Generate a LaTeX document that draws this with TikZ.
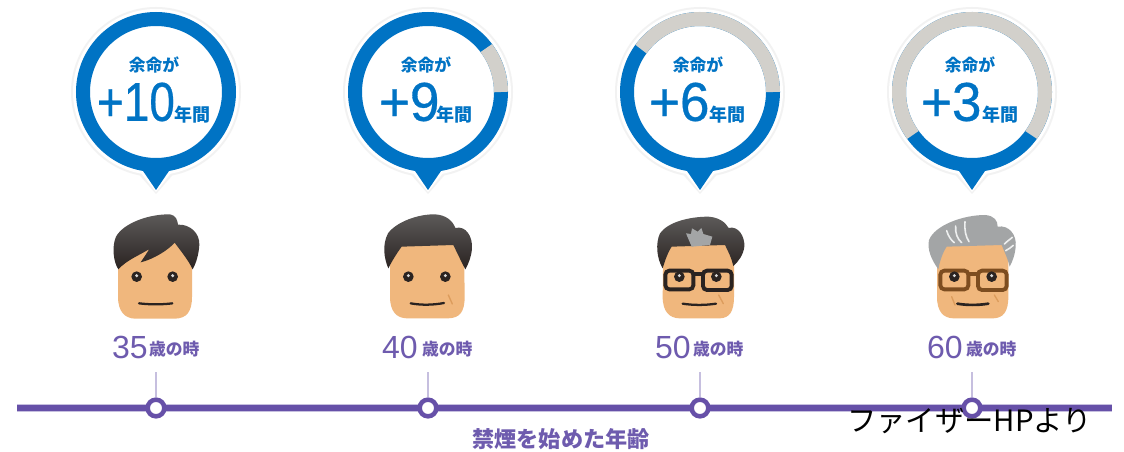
\documentclass[tikz,border=0pt]{standalone}
\usepackage{fontspec}
\setmainfont{Noto Sans CJK JP}
\newfontfamily\digitfont[FakeBold=0.6]{Liberation Sans}
\newfontfamily\agefont{Liberation Sans}
\definecolor{ringblue}{HTML}{0073C4}
\definecolor{ringgrey}{HTML}{D2D0CB}
\definecolor{purp}{HTML}{6650A8}
\definecolor{purptext}{HTML}{6E5BAE}
\definecolor{purplight}{HTML}{C6BFDF}
\definecolor{skin}{HTML}{F0B77D}
\definecolor{hairtop}{HTML}{5C5A59}
\definecolor{hairbot}{HTML}{2A2321}
\definecolor{greyhair}{HTML}{A3A5A6}
\definecolor{brownglass}{HTML}{7D4D20}
\definecolor{wrinkle}{HTML}{DC9C5C}
\tikzset{
  txt/.style={inner sep=0pt,outer sep=0pt,font=\bfseries},
  lifetxt/.style={txt,text=ringblue,font=\bfseries\fontsize{12.6}{14}\selectfont},
  yeartxt/.style={txt,text=ringblue,font=\bfseries\fontsize{13.5}{15}\selectfont},
  bignum/.style={inner sep=0pt,outer sep=0pt,text=ringblue,font=\digitfont\fontsize{41}{42}\selectfont},
  agenum/.style={inner sep=0pt,outer sep=0pt,text=purptext,font=\agefont\fontsize{24}{25}\selectfont},
  agetxt/.style={txt,text=purptext,font=\bfseries\fontsize{12.6}{14}\selectfont},
  dot/.style={circle,draw=purp,fill=white,line width=3.4pt,minimum size=12.5pt,inner sep=0pt},
  tick/.style={draw=purplight,line width=2.2pt},
  ringline/.style={line width=10.5pt,line cap=butt},
  facex/.style={x=.25pt,y=-.25pt},
  mouth/.style={draw=#1,line width=1.7pt,line cap=round},
  brow/.style={draw=wrinkle,line width=1pt,line cap=round},
  hairshade/.style={top color=hairtop,bottom color=hairbot},
}
\newcommand{\bubble}[1]{%
  \fill[black!5] (#1,92) circle[radius=85];
  \fill[black!5] (#1-21,170) -- (#1,194) -- (#1+21,170) -- cycle;
  \fill[white] (#1,92) circle[radius=83];
  \fill[white] (#1-19,168) -- (#1,192) -- (#1+19,168) -- cycle;
  \fill[ringblue] (#1-15,168) -- (#1,190) -- (#1+15,168) -- cycle;
  \draw[ringblue,ringline] (#1,92) circle[radius=73];
}
\newcommand{\eye}[1]{%
  \fill[hairbot] (#1) circle[radius=16];
  \fill[white!85!black] ($(#1)+(0,-3)$) circle[radius=5];
}
\usetikzlibrary{calc}
\begin{document}
\begin{tikzpicture}[x=.75pt,y=-.75pt]
\useasboundingbox (0,0) rectangle (1124,452);
\fill[white] (0,0) rectangle (1124,452);
% bubbles
\bubble{156}
\bubble{428}
\draw[ringgrey,ringline] (428,92)+(-37:73) arc[start angle=-37,end angle=0,radius=73];
\bubble{700}
\draw[ringgrey,ringline] (700,92)+(-144:73) arc[start angle=-144,end angle=0,radius=73];
\bubble{972}
\draw[ringgrey,ringline] (972,92)+(-216:73) arc[start angle=-216,end angle=36,radius=73];
% bubble text
\node[lifetxt] (a1) at (154,65) {余命が};
\node[lifetxt] (a2) at (426,65) {余命が};
\node[lifetxt] (a3) at (698,65) {余命が};
\node[lifetxt] (a4) at (970,65) {余命が};
\node[bignum,anchor=west] (n1) at (97,102) {\scalebox{.84}[1]{+10}};
\node[bignum,anchor=west] (n2) at (379,102) {\scalebox{.97}[1]{+9}};
\node[bignum,anchor=west] (n3) at (649,102) {\scalebox{.97}[1]{+6}};
\node[bignum,anchor=west] (n4) at (921,102) {\scalebox{.97}[1]{+3}};
\node[yeartxt] (y1) at (192,115) {年間};
\node[yeartxt] (y2) at (454.5,115) {年間};
\node[yeartxt] (y3) at (727,115) {年間};
\node[yeartxt] (y4) at (1000,115) {年間};
% face 1
\begin{scope}[shift={(90,200)},facex]
\fill[skin] (85,150) -- (84,290) .. controls (84,335) and (105,355) .. (135,356) -- (255,356) .. controls (290,355) and (306,335) .. (306,290) -- (306,150) -- (254,110) -- cycle;
\shade[hairshade] (85,208) .. controls (70,185) and (65,140) .. (78,110) .. controls (100,70) and (175,42) .. (240,43) .. controls (258,46) and (262,60) .. (264,74) .. controls (300,72) and (330,100) .. (328,135) .. controls (326,165) and (318,190) .. (308,208) .. controls (295,180) and (270,150) .. (254,128) .. controls (235,150) and (190,178) .. (152,187) .. controls (162,172) and (170,160) .. (178,147) .. controls (150,165) and (110,180) .. (85,208) -- cycle;
\eye{140,230}
\eye{248,230}
\draw[mouth=hairbot] (147,310) .. controls (180,314) and (215,314) .. (247,310);
\end{scope}
% face 2
\begin{scope}[shift={(360,200)},facex]
\fill[skin] (90,130) -- (90,290) .. controls (90,335) and (110,354) .. (140,355) -- (265,355) .. controls (300,354) and (314,335) .. (314,290) -- (312,130) -- cycle;
\shade[hairshade] (85,205) .. controls (72,175) and (66,135) .. (84,100) .. controls (110,65) and (175,42) .. (225,43) .. controls (258,45) and (278,62) .. (286,84) .. controls (318,76) and (338,110) .. (336,145) .. controls (334,170) and (326,190) .. (316,208) .. controls (304,185) and (292,160) .. (280,135) -- (125,140) .. controls (110,160) and (95,185) .. (85,205) -- cycle;
\eye{145,230}
\eye{256,230}
\draw[mouth=hairbot] (152,310) .. controls (185,316) and (220,315) .. (252,309);
\draw[brow] (265,285) -- (277,312);
\end{scope}
% face 3
\begin{scope}[shift={(630,200)},facex]
\fill[skin] (100,130) -- (98,290) .. controls (98,335) and (118,354) .. (148,355) -- (270,355) .. controls (298,354) and (312,335) .. (312,290) -- (312,130) -- cycle;
\shade[hairshade] (98,205) .. controls (80,175) and (76,130) .. (90,100) .. controls (115,65) and (180,50) .. (235,50) .. controls (265,52) and (285,65) .. (296,84) .. controls (325,76) and (345,110) .. (343,140) .. controls (340,165) and (325,185) .. (310,198) .. controls (305,175) and (295,155) .. (285,135) -- (125,140) .. controls (112,160) and (104,185) .. (98,205) -- cycle;
\fill[greyhair] (185,140) -- (168,100) -- (183,102) -- (186,85) -- (203,95) -- (214,84) -- (220,102) -- (247,110) -- (240,135) -- cycle;
\draw[hairbot,line width=2.9pt,rounded corners=3pt] (106,212) rectangle (190,268);
\draw[hairbot,line width=2.9pt,rounded corners=3pt] (219,212) rectangle (305,270);
\draw[hairbot,line width=2.9pt] (190,222) -- (219,222);
\eye{148,230}
\eye{259,230}
\draw[mouth=hairbot] (158,311) .. controls (190,316) and (225,316) .. (258,311);
\draw[brow] (266,285) -- (280,311);
\end{scope}
% face 4
\begin{scope}[shift={(905,200)},facex]
\fill[skin] (96,130) -- (96,290) .. controls (96,335) and (115,354) .. (145,355) -- (265,355) .. controls (295,354) and (310,335) .. (310,290) -- (310,130) -- cycle;
\fill[greyhair] (100,208) .. controls (80,180) and (66,150) .. (72,120) .. controls (90,75) and (175,45) .. (240,45) .. controls (268,47) and (278,62) .. (278,80) .. controls (312,74) and (336,105) .. (332,140) .. controls (330,165) and (322,185) .. (314,200) .. controls (308,175) and (298,155) .. (290,135) -- (125,140) .. controls (112,160) and (104,185) .. (100,208) -- cycle;
\draw[white!82!greyhair,line width=1.2pt,line cap=round] (125,92) .. controls (130,110) and (140,122) .. (148,128);
\draw[white!82!greyhair,line width=1.2pt,line cap=round] (152,78) .. controls (150,100) and (158,118) .. (170,128);
\draw[white!82!greyhair,line width=1.2pt,line cap=round] (180,65) .. controls (178,90) and (182,110) .. (192,125);
\draw[white!82!greyhair,line width=1.2pt,line cap=round] (298,132) .. controls (305,125) and (315,118) .. (322,112);
\draw[white!82!greyhair,line width=1.2pt,line cap=round] (302,152) .. controls (310,148) and (318,142) .. (325,136);
\draw[brownglass,line width=2.9pt,rounded corners=3pt] (106,212) rectangle (190,268);
\draw[brownglass,line width=2.9pt,rounded corners=3pt] (219,212) rectangle (305,270);
\draw[brownglass,line width=2.9pt] (190,222) -- (219,222);
\eye{148,230}
\eye{260,230}
\draw[mouth=hairbot,line width=2pt] (157,311) .. controls (185,316) and (220,316) .. (250,311);
\draw[brow] (140,290) -- (150,315);
\draw[brow] (268,285) -- (280,305);
\end{scope}
% ages
\node[agenum,anchor=west] (g1) at (112,347) {\scalebox{1}[1]{35}};
\node[agetxt,anchor=west] (t1) at (149,349) {歳の時};
\node[agenum,anchor=west] (g2) at (382,347) {\scalebox{1}[1]{40}};
\node[agetxt,anchor=west] (t2) at (422,349) {歳の時};
\node[agenum,anchor=west] (g3) at (655,347) {\scalebox{1}[1]{50}};
\node[agetxt,anchor=west] (t3) at (693,349) {歳の時};
\node[agenum,anchor=west] (g4) at (927,347) {\scalebox{1}[1]{60}};
\node[agetxt,anchor=west] (t4) at (966,349) {歳の時};
% timeline
\coordinate (ls) at (17,408);
\coordinate (le) at (1112,408);
\draw[purplight,line width=6.4pt] (ls) -- (le);
\draw[purp,line width=4.4pt] (ls) -- (le);
\coordinate (k1) at (156,372);
\coordinate (k2) at (428,372);
\coordinate (k3) at (700,372);
\coordinate (k4) at (972,372);
\node[dot] (d1) at (156,408) {};
\node[dot] (d2) at (428,408) {};
\node[dot] (d3) at (700,408) {};
\node[dot] (d4) at (972,408) {};
\draw[tick] (k1) -- (d1);
\draw[tick] (k2) -- (d2);
\draw[tick] (k3) -- (d3);
\draw[tick] (k4) -- (d4);
\node[txt,text=purptext,font=\bfseries\fontsize{16.6}{18}\selectfont] (cap) at (561,439) {禁煙を始めた年齢};
\node[inner sep=0pt,text=black,anchor=west,font=\fontsize{22}{24}\selectfont] (src) at (847,421) {ファイザーHPより};
\end{tikzpicture}
\end{document}
